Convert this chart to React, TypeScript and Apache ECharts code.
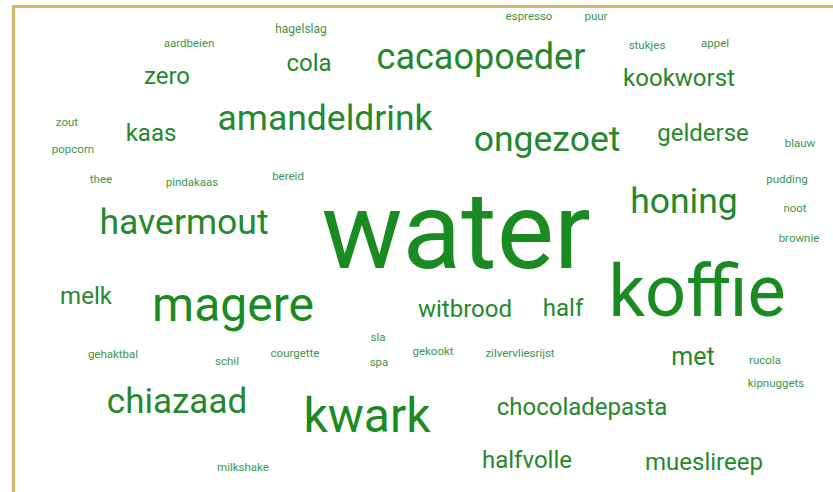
import React, { useEffect, useRef } from "react";
import * as echarts from "echarts";

const words = [
  "espresso", "puur", "hagelslag", "aardbeien", "cacaopoeder", "stukjes", "appel",
  "zero", "cola", "kookworst", "amandeldrink", "zout", "kaas", "ongezoet", "gelderse",
  "popcorn", "blauw", "thee", "pindakaas", "bereid", "pudding", "honing", "havermout",
  "noot", "brownie", "water", "koffie", "melk", "magere", "witbrood", "half",
  "sla", "gehaktbal", "schil", "courgette", "spa", "gekookt", "zilvervliesrijst",
  "met", "rucola", "kipnuggets", "chiazaad", "kwark", "chocoladepasta", "halfvolle",
  "mueslireep", "milkshake",
];

const weights = [
  11.5, 11.5, 12, 11.5, 36, 11.5, 11.5,
  24, 24, 24, 35.5, 11.5, 24, 35.5, 24,
  11.5, 11.5, 11.5, 11.5, 11.5, 11.5, 35.5, 35.5,
  11.5, 11.5, 108, 72, 24, 48, 24, 24,
  11.5, 11.5, 11.5, 11.5, 11.5, 11.5, 11.5,
  25, 11.5, 11.5, 35, 48, 24, 24,
  24, 11.5,
];

const posX = [
  529, 596, 301, 189, 481, 647, 715,
  167, 309, 679, 325, 67, 151, 547, 703,
  73, 800, 101, 192, 288, 787, 684, 184,
  795, 799, 456, 697, 86, 233, 465, 563,
  378, 113, 227, 295, 379, 433, 520,
  693, 765, 776, 177, 367, 582, 527,
  704, 243,
];

const posY = [
  16, 16, 29, 43, 57, 45, 43,
  76, 63, 78, 118, 122, 133, 139, 133,
  149, 143, 179, 182, 176, 179, 201, 222,
  208, 238, 231, 291, 296, 304, 309, 308,
  337, 354, 361, 353, 362, 351, 353,
  356, 360, 383, 401, 415, 407, 460,
  462, 467,
];

function colorFor(w: number): string {
  if (w >= 40) return "#1a8a22";
  if (w >= 20) return "#23892c";
  return "#3d964b";
}

export default function App() {
  const ref = useRef<HTMLDivElement>(null);
  useEffect(() => {
    if (!ref.current) return;
    const chart = echarts.init(ref.current, undefined, { renderer: "svg" });
    const data = words.map((w, i) => ({
      name: w,
      value: [posX[i], posY[i]],
      label: {
        fontSize: weights[i],
        lineHeight: Math.round(weights[i] * 0.95),
        color: colorFor(weights[i]),
      },
    }));
    chart.setOption({
      animation: false,
      backgroundColor: "#ffffff",
      grid: { left: 0, right: 0, top: 0, bottom: 0 },
      xAxis: { type: "value", min: 0, max: 833, show: false },
      yAxis: { type: "value", min: 0, max: 492, inverse: true, show: false },
      graphic: [
        {
          type: "rect",
          shape: { x: 13.5, y: 6.5, width: 900, height: 600 },
          style: { fill: "none", stroke: "#d8b76a", lineWidth: 3 },
          silent: true,
        },
      ],
      series: [
        {
          type: "scatter",
          symbolSize: 0,
          itemStyle: { opacity: 1 },
          data,
          label: {
            show: true,
            position: "inside",
            align: "center",
            verticalAlign: "middle",
            formatter: "{b}",
            fontFamily: "Roboto",
            opacity: 1,
          },
          emphasis: { disabled: true },
        },
      ],
    });
    return () => chart.dispose();
  }, []);
  return (
    <div style={{ position: "fixed", left: 0, top: 0, width: 833, height: 492, overflow: "hidden" }}>
      <div ref={ref} style={{ width: 833, height: 492 }} />
    </div>
  );
}
